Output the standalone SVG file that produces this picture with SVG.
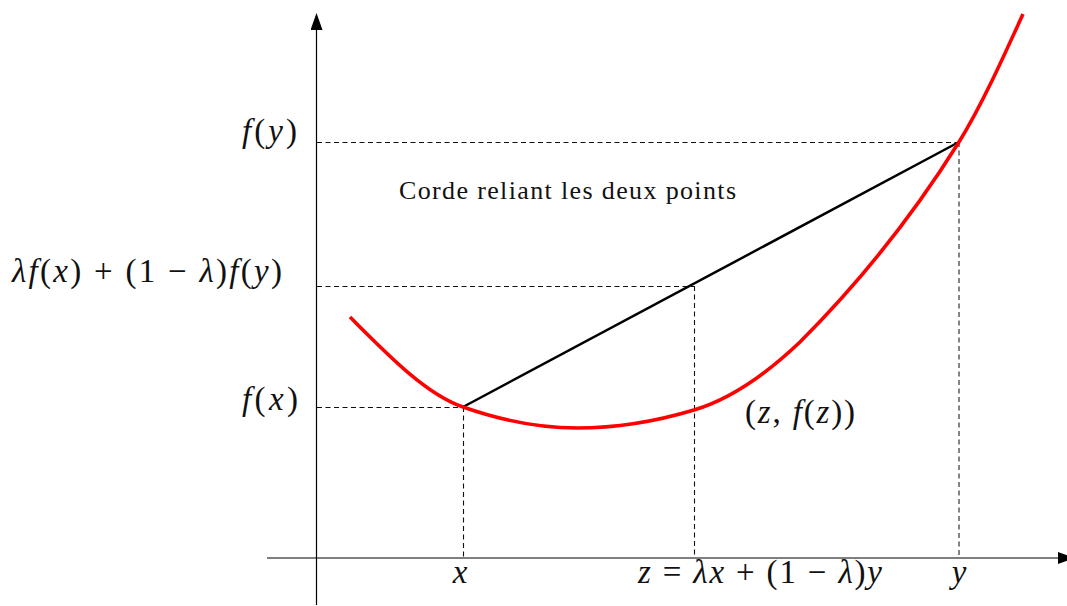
<svg xmlns="http://www.w3.org/2000/svg" width="1067" height="606" viewBox="0 0 1067 606">
<style>
.axis{stroke:#000;stroke-width:1.2;fill:none}
.dash{stroke:#111;stroke-width:1.1;stroke-dasharray:5 3.5;fill:none}
.dashg{stroke:#666;stroke-width:1.6;stroke-dasharray:5 3.5;fill:none}
.curve{stroke:#ff0000;stroke-width:3.6;fill:none;stroke-linejoin:round}
.chord{stroke:#000;stroke-width:2.5;fill:none}
text{font-family:'Liberation Serif','DejaVu Serif','Times New Roman',serif;fill:#111}
.m{font-size:33px}
.i{font-style:italic}
.t{font-size:26px}
</style>
<defs>
<marker id="ah" viewBox="0 0 17 12" refX="0" refY="6" markerWidth="17" markerHeight="12" markerUnits="userSpaceOnUse" orient="auto">
<path d="M0,0 L17,6 L0,12 Z" fill="#000"/>
</marker>
</defs>
<g id="axes">
<line class="axis" x1="316.5" y1="605" x2="316.5" y2="30" marker-end="url(#ah)"/>
<line class="axis" x1="267" y1="558" x2="1058" y2="558" marker-end="url(#ah)"/>
</g>
<g id="guides">
<line class="dash" x1="317" y1="142.5" x2="959" y2="142.5"/>
<line class="dash" x1="317" y1="286.5" x2="694" y2="286.5"/>
<line class="dash" x1="317" y1="407.5" x2="463" y2="407.5"/>
<line class="dash" x1="463.5" y1="407" x2="463.5" y2="558"/>
<line class="dash" x1="694.5" y1="286" x2="694.5" y2="558"/>
<line class="dashg" x1="959" y1="142" x2="959" y2="558"/>
</g>
<g id="chord">
<line class="chord" x1="463" y1="407" x2="959" y2="142"/>
</g>
<g id="curve">
<path class="curve" d="M350,317 C387.7,354.7 425.3,393.8 463,407 C501,420.3 539,428 577,428 C616,428 655,421.7 694,410 C729.3,399.4 764.7,375.6 800,342 C853,289 906,226.8 959,142 C980.3,107.9 1001.7,60.9 1023,14"/>
</g>
<g id="labels">
<text id="fy" class="m" x="242" y="142" textLength="55" lengthAdjust="spacing"><tspan class="i">f</tspan>(<tspan class="i">y</tspan>)</text>
<text id="lam" class="m" x="12" y="282" textLength="270" lengthAdjust="spacing"><tspan class="i">λf</tspan>(<tspan class="i">x</tspan>) + (1 − <tspan class="i">λ</tspan>)<tspan class="i">f</tspan>(<tspan class="i">y</tspan>)</text>
<text id="fx" class="m" x="242" y="410" textLength="56" lengthAdjust="spacing"><tspan class="i">f</tspan>(<tspan class="i">x</tspan>)</text>
<text id="xl" class="m i" x="460" y="583" text-anchor="middle">x</text>
<text id="zl" class="m" x="638" y="583" textLength="244" lengthAdjust="spacing"><tspan class="i">z</tspan> = <tspan class="i">λx</tspan> + (1 − <tspan class="i">λ</tspan>)<tspan class="i">y</tspan></text>
<text id="yl" class="m i" x="959" y="583" text-anchor="middle">y</text>
<text id="zfz" class="m" x="745" y="423" textLength="110" lengthAdjust="spacing">(<tspan class="i">z</tspan>, <tspan class="i">f</tspan>(<tspan class="i">z</tspan>))</text>
<text id="corde" class="t" x="399" y="199" textLength="337" lengthAdjust="spacing">Corde reliant les deux points</text>
</g>
</svg>
